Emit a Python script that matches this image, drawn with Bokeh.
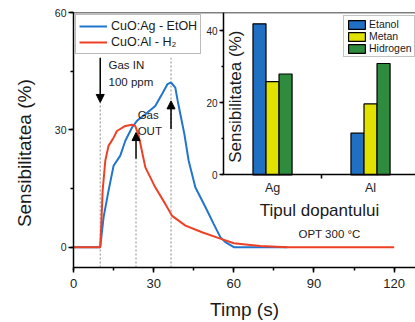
import numpy as np
from bokeh.plotting import figure
from bokeh.models import (Range1d, SingleIntervalTicker, FixedTicker, Arrow, NormalHead,
                          ColumnDataSource, Legend, LegendItem, Span, LinearAxis)
from bokeh.core.properties import value
from bokeh.embed import file_html
from bokeh.resources import INLINE

FONT = "Liberation Sans"

# ---------------- main chart data (time in s, sensitivity in %) ----------------
t_ag = [0, 10, 11.25, 13.1, 15, 17.5, 19.4, 21.9, 23.75, 26.9, 30.6, 33.1, 35.2, 36.5,
        38.1, 39.0, 40.0, 41.5, 43.1, 45.6, 49.4, 52.5, 55, 57, 60, 80]
s_ag = [0, 0, 7.6, 14.4, 20.8, 23.4, 27.2, 30.6, 32.3, 34.0, 36.1, 39.1, 41.7, 42.1,
        40.8, 37.4, 34.0, 28.9, 22.1, 15.3, 10.2, 5.9, 2.5, 1.2, 0, 0]

t_al = [0, 10, 10.4, 10.9, 11.9, 13.1, 15, 16.25, 19.4, 21.9, 23.1, 24.4, 25.6, 26.9,
        30.6, 34.4, 36.9, 41.9, 48.1, 54.4, 60, 64.4, 70, 80, 120]
s_al = [0, 0, 5.9, 14.4, 22.1, 25.9, 28.0, 29.7, 31.0, 31.3, 31.0, 28.5, 24.6, 20.4,
        15.3, 11.0, 8.0, 5.5, 3.8, 2.3, 1.0, 0.7, 0.3, 0, 0]

series_labels = ["CuO:Ag - EtOH", "CuO:Al - H\u2082"]

# gas in / gas out markers
marker_t = [10, 23.4, 36.5]
marker_top = [37.0, 22.6, 48.4]
arrow_y_start = [48.4, 22.6, 30.2]
arrow_y_end = [37.0, 29.3, 37.4]

notes_x = [13.1, 13.1, 24.0, 24.0, 84.2]
notes_y = [46.5, 42.2, 33.9, 29.7, 3.25]
notes_text = ["Gas IN", "100 ppm", "Gas", "OUT", "OPT 300 \u00b0C"]

# ---------------- inset data ----------------
dopants = ["Ag", "Al"]
etanol = [41.9, 11.6]
metan = [25.9, 19.7]
hidrogen = [28.0, 30.9]
bar_names = ["Etanol", "Metan", "Hidrogen"]
bar_colors = ["#1f6fc3", "#e2e200", "#2f8c3e"]

BLUE = "#2175cc"
RED = "#ee4025"

# ---------------- figure ----------------
p = figure(frame_width=342, frame_height=255, output_backend="svg", toolbar_location=None,
           x_range=Range1d(0, 128), y_range=Range1d(-5.2, 60),
           min_border_left=73, min_border_right=0, min_border_top=12, min_border_bottom=55)
p.outline_line_color = None
p.xgrid.visible = False
p.ygrid.visible = False
p.background_fill_color = "white"
p.border_fill_color = "white"

# inset coordinate system (placed inside the main frame)
p.extra_x_ranges = {"ix": Range1d(-1.031, 2.459)}
p.extra_y_ranges = {"iy": Range1d(-25.64, 45.04)}

p.add_layout(Span(location=60, dimension="width", line_color="black", line_width=1.5))

src_m = ColumnDataSource(dict(x=marker_t, y0=[-5.2] * len(marker_t), y1=marker_top))
p.segment(x0="x", y0="y0", x1="x", y1="y1", source=src_m, line_color="#8a8a8a",
          line_width=1, line_dash="2 2")

r_ag = p.line(t_ag, s_ag, line_color=BLUE, line_width=2)
r_al = p.line(t_al, s_al, line_color=RED, line_width=2)

src_a = ColumnDataSource(dict(x=marker_t, ys=arrow_y_start, ye=arrow_y_end))
p.add_layout(Arrow(end=NormalHead(size=8, fill_color="black", line_color="black"),
                   x_start="x", y_start="ys", x_end="x", y_end="ye", source=src_a,
                   line_color="black", line_width=1.5))

p.text(x=notes_x, y=notes_y, text=notes_text, text_font=value(FONT),
       text_font_size=value("11.5px"), text_baseline="middle", text_align="left",
       text_color="#1a1a1a")

for ax in (p.xaxis[0], p.yaxis[0]):
    ax.ticker = SingleIntervalTicker(interval=30, num_minor_ticks=2)
    ax.axis_line_width = 1.5
    ax.axis_line_color = "black"
    ax.major_tick_in = 0
    ax.major_tick_out = 5
    ax.minor_tick_in = 0
    ax.minor_tick_out = 3
    ax.major_tick_line_width = 1.5
    ax.minor_tick_line_width = 1.5
    ax.major_label_text_font = FONT
    ax.major_label_text_color = "#222222"
    ax.axis_label_text_font = FONT
    ax.axis_label_text_font_style = "normal"
    ax.axis_label_text_color = "#1a1a1a"
    ax.axis_label_text_font_size = "19px"

p.xaxis[0].major_label_text_font_size = "13px"
p.xaxis[0].major_label_standoff = 6
p.xaxis[0].axis_label = "Timp (s)"
p.xaxis[0].axis_label_standoff = 8
p.yaxis[0].major_label_text_font_size = "10.5px"
p.yaxis[0].major_label_standoff = 2
# trailing no-break spaces push the visible title a little below the frame centre, as in the original
p.yaxis[0].axis_label = "Sensibilitatea (%)" + "\u00a0" * 5
p.yaxis[0].axis_label_standoff = 17

leg = Legend(items=[LegendItem(label=series_labels[0], renderers=[r_ag]),
                    LegendItem(label=series_labels[1], renderers=[r_al])],
             location="top_left", margin=2, padding=3, spacing=0,
             glyph_width=28, glyph_height=16, label_height=16, label_standoff=4,
             label_text_font=FONT, label_text_font_size="12.5px", label_text_color="#1a1a1a",
             border_line_color="#777777", border_line_width=1,
             background_fill_color="white", background_fill_alpha=1)
p.add_layout(leg)

# ---------------- inset (bar chart) ----------------
xpos = np.arange(1, len(dopants) + 1)
bw = 0.133
bar_sets = [etanol, metan, hidrogen]
bar_renderers = []
for i, (vals, col) in enumerate(zip(bar_sets, bar_colors)):
    r = p.vbar(x=xpos + (i - 1) * bw, top=vals, width=bw, bottom=0,
               fill_color=col, line_color="black", line_width=1.2,
               x_range_name="ix", y_range_name="iy")
    bar_renderers.append(r)

p.text(x=[0.62], y=[21.7], text=["Sensibilitatea (%)"], angle=np.pi / 2,
       text_font=value(FONT), text_font_size=value("17px"), text_align="center",
       text_baseline="middle", text_color="#1a1a1a", x_range_name="ix", y_range_name="iy")

ixa = LinearAxis(x_range_name="ix", y_range_name="iy", fixed_location=0, bounds=(0.5, 2.459))
ixa.ticker = FixedTicker(ticks=[float(v) for v in xpos], minor_ticks=[1.5])
ixa.major_label_overrides = {int(k): d for k, d in zip(xpos, dopants)}
ixa.major_tick_in = 0
ixa.major_tick_out = 0
ixa.minor_tick_in = 0
ixa.minor_tick_out = 4
ixa.minor_tick_line_width = 1.5
ixa.major_label_text_font_size = "12.5px"
ixa.major_label_standoff = 2
ixa.axis_label = "Tipul dopantului"
ixa.axis_label_standoff = 3

iya = LinearAxis(x_range_name="ix", y_range_name="iy", fixed_location=0.5, bounds=(0, 45.04))
iya.ticker = SingleIntervalTicker(interval=20, num_minor_ticks=2)
iya.major_tick_in = 0
iya.major_tick_out = 4
iya.minor_tick_in = 0
iya.minor_tick_out = 2
iya.major_tick_line_width = 1.5
iya.minor_tick_line_width = 1.5
iya.major_label_text_font_size = "10px"
iya.major_label_standoff = 2

for ax in (ixa, iya):
    ax.axis_line_width = 1.5
    ax.axis_line_color = "black"
    ax.major_label_text_font = FONT
    ax.major_label_text_color = "#222222"
    ax.axis_label_text_font = FONT
    ax.axis_label_text_font_style = "normal"
    ax.axis_label_text_color = "#1a1a1a"
    ax.axis_label_text_font_size = "17px"

p.add_layout(ixa, "below")
p.add_layout(iya, "left")

leg2 = Legend(items=[LegendItem(label=n, renderers=[r]) for n, r in zip(bar_names, bar_renderers)],
              location=(270, 210), margin=0, padding=2, spacing=0,
              glyph_width=21, glyph_height=11, label_height=11, label_standoff=2,
              label_text_font=FONT, label_text_font_size="10.5px", label_text_color="#1a1a1a",
              border_line_color="#888888", border_line_width=1,
              background_fill_color="white", background_fill_alpha=1)
p.add_layout(leg2)

open("out.html", "w").write(file_html(p, INLINE))
